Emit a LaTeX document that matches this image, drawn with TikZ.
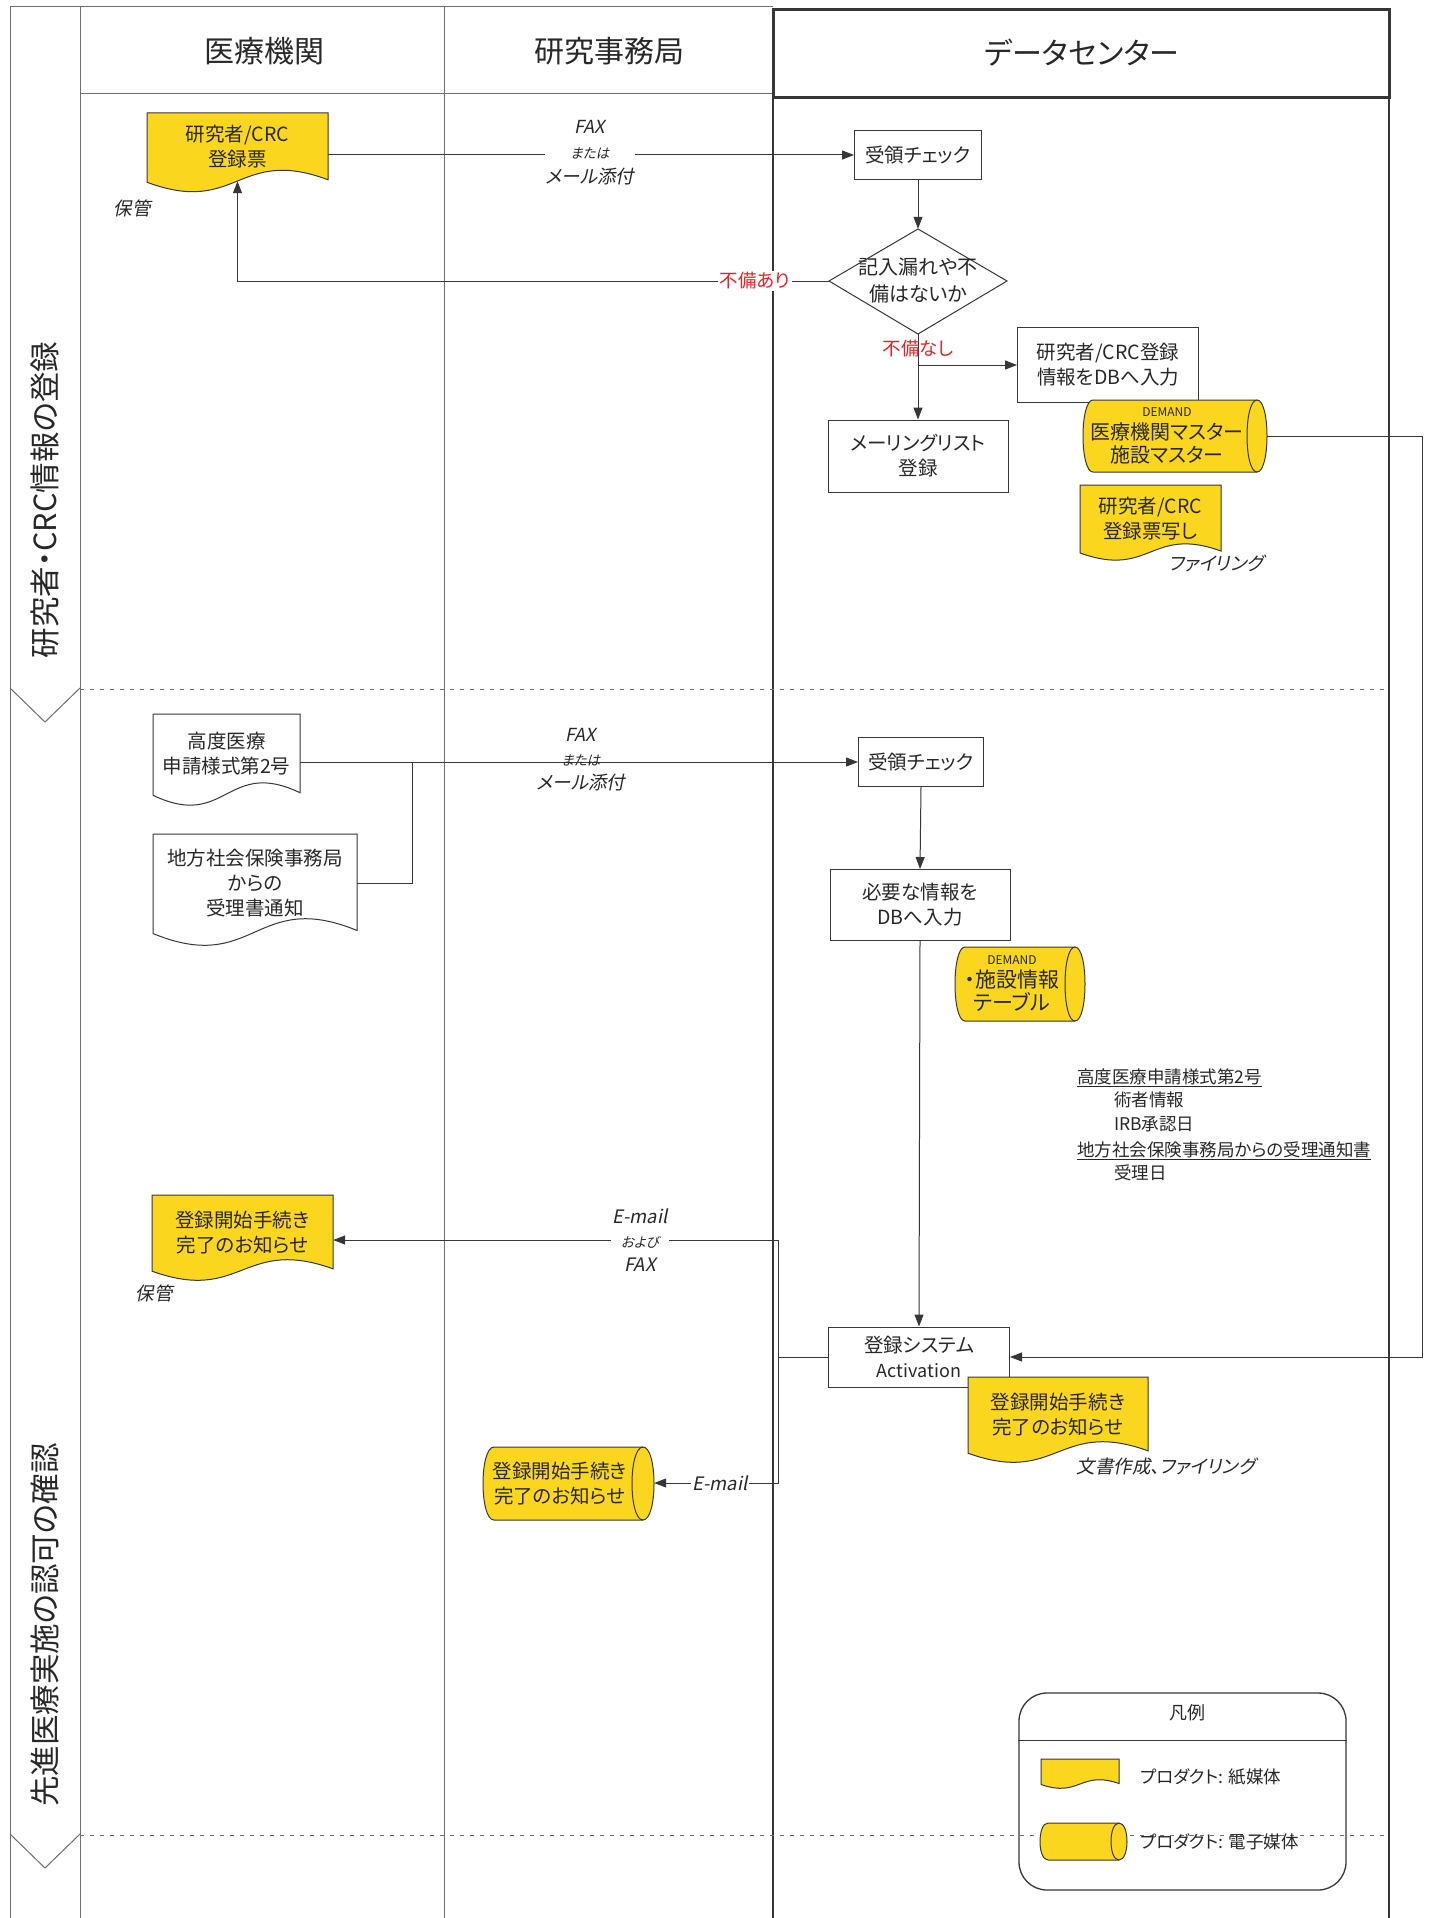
\documentclass[tikz,border=0pt]{standalone}
\usepackage{fontspec}
\setmainfont{Noto Sans CJK JP}[RawFeature=+palt]
\newfontfamily\jpit{Noto Sans CJK JP}[FakeSlant=0.2,RawFeature=+palt]
\usetikzlibrary{arrows.meta,calc}
\definecolor{yel}{RGB}{250,214,30}
\definecolor{linec}{RGB}{55,55,55}
\definecolor{txt}{RGB}{40,40,40}
\definecolor{redc}{RGB}{232,32,40}
\definecolor{gridc}{RGB}{110,110,110}
\newcommand\fs[2]{\fontsize{#1}{#2}\selectfont}
\tikzset{
  ln/.style={draw=linec, line width=1pt},
  arr/.style={ln, -{Triangle[length=12pt,width=9pt]}},
  gridl/.style={draw=gridc, line width=1pt},
  colthick/.style={draw=linec, line width=2.6pt},
  dashl/.style={draw=gridc, line width=0.9pt, dash pattern=on 4pt off 6pt},
  pbox/.style={draw=linec, line width=1pt, fill=white, text=txt, align=center, inner sep=0pt, font=\fs{19.5}{25}},
  doct/.style={text=txt, align=center, inner sep=0pt, font=\fs{19.5}{25}},
  lbl/.style={text=txt, align=center, inner sep=1pt, font=\jpit\fs{18.5}{22}},
  note/.style={text=txt, anchor=west, inner sep=0pt, font=\fs{17.5}{20}},
  hdr/.style={text=txt, font=\fs{30}{34}},
  phase/.style={text=txt, rotate=90, font=\fs{30.5}{36}},
}
% document shape: name, x0, x1, top, wave-mid, amplitude, fill, text
\newcommand\paperdoc[8]{%
  \filldraw[ln, fill=#7] (#2,#4) -- (#3,#4) -- (#3,{#5-0.05*#6})
    .. controls ({(#2+#3)/2},{#5-1.4*#6}) and ({(#2+#3)/2},{#5+1.4*#6}) .. (#2,{#5+0.05*#6}) -- cycle;
  \node[doct, minimum width={#3-#2}, minimum height={#5-#4}] (#1) at ({(#2+#3)/2},{(#4+#5)/2}) {#8};
}
% stored data (horizontal cylinder): name, x0, x1, y0, y1, rx, text, text options
\newcommand\ecyl[8]{%
  \filldraw[ln, fill=yel] ({#2+#6},#4) -- ({#3-#6},#4)
    .. controls ({#3+#6/3},#4) and ({#3+#6/3},#5) .. ({#3-#6},#5)
    -- ({#2+#6},#5)
    .. controls ({#2-#6/3},#5) and ({#2-#6/3},#4) .. ({#2+#6},#4) -- cycle;
  \draw[ln] ({#3-#6},#4) .. controls ({#3-#6-4/3*#6},#4) and ({#3-#6-4/3*#6},#5) .. ({#3-#6},#5);
  \node[inner sep=0pt, minimum width={#3-#2}, minimum height={#5-#4}] (#1) at ({(#2+#3)/2},{(#4+#5)/2}) {};
  \node[doct, #8] (#1t) at ({(#2+#3)/2-0.8*#6},{(#4+#5)/2}) {#7};
}
\begin{document}
\begin{tikzpicture}[x=1pt,y=-1pt]
\useasboundingbox (0,0) rectangle (1428,1918);
\fill[white] (0,0) rectangle (1428,1918);

% ---------- lanes ----------
\draw[gridl] (10,7) -- (773,7);
\draw[gridl] (80,94) -- (773,94);
\draw[gridl] (10,7) -- (10,1918);
\draw[gridl] (80,7) -- (80,1918);
\draw[gridl] (444,7) -- (444,1918);
\draw[colthick] (773,10) -- (773,1918);
\draw[colthick] (1389,10) -- (1389,1918);
\draw[draw=linec, line width=3pt] (773,10) rectangle (1389,98);

\node[hdr] (h1) at (264,51) {医療機関};
\node[hdr] (h2) at (609,51) {研究事務局};
\node[hdr] (h3) at (1082,53) {データセンター};

% phase separators
\draw[gridl] (10,688) -- (45,722) -- (80,688);
\draw[gridl] (10,1834) -- (45,1868) -- (80,1834);
\draw[dashl] (80,689) -- (1389,689);
\draw[dashl] (80,1835) -- (1389,1835);
\node[phase] (p1) at (45,500) {研究者・CRC情報の登録};
\node[phase] (p2) at (45,1625) {先進医療実施の認可の確認};

% ---------- phase 1 ----------
\paperdoc{doc1}{147}{328}{113}{181}{25}{yel}{研究者/CRC\\登録票}
\node[lbl] (k1) at (132,208) {保管};

\node[pbox, minimum width=127, minimum height=49] (rc1) at (918,155) {受領チェック};
\draw[arr] (doc1.east |- rc1.west) -- (rc1.west);
\node[lbl, fill=white, font=\jpit\fs{18.5}{25}] (m1) at (590,153) {{\fs{18}{18}FAX}\\{\fs{13.5}{14}または}\\メール添付};

\draw[ln, fill=white] (918,229) -- (1007,281) -- (918,334) -- (829,281) -- cycle;
\node[inner sep=0pt, minimum width=178, minimum height=105] (dia) at (918,281.5) {};
\node[doct, font=\fs{20}{27}] (diat) at (918,280) {記入漏れや不\\備はないか};
\draw[arr] (rc1.south) -- (dia.north);

\draw[arr] (dia.west) -| (doc1.south);
\node[text=redc, fill=white, inner sep=2pt, font=\fs{18.5}{20}] (nb1) at (755,281) {不備あり};

\node[pbox, minimum width=180, minimum height=72] (ml) at (918,456) {メーリングリスト\\登録};
\node[pbox, minimum width=181, minimum height=75] (db1) at (1108,365) {研究者/CRC登録\\情報をDBへ入力};
\draw[arr] (dia.south) -- (ml.north);
\coordinate (br1) at (918,365);
\draw[arr] (br1) -- (db1.west);
\node[text=redc, inner sep=0pt, font=\fs{18.5}{20}] (nb2) at (918,349) {不備なし};

\ecyl{cyl1}{1083}{1267}{400}{472}{10}{{\fs{12}{14}DEMAND}\\医療機関マスター\\施設マスター}{font=\fs{20}{23}}
\paperdoc{doc2}{1080}{1221}{485}{552}{19}{yel}{研究者/CRC\\登録票写し}
\node[lbl] (k2) at (1216,563) {ファイリング};

% ---------- phase 2 ----------
\paperdoc{doc3}{153}{300}{714}{794}{26}{white}{高度医療\\申請様式第2号}
\paperdoc{doc4}{153}{357}{834}{932}{31}{white}{地方社会保険事務局\\からの\\受理書通知}

\node[pbox, minimum width=125, minimum height=49] (rc2) at (921,762) {受領チェック};
\draw[arr] (doc3.east |- rc2.west) -- (rc2.west);
\coordinate (j1) at (412,762);
\draw[ln] (doc4.east) -| (j1);
\node[lbl, font=\jpit\fs{18.5}{24}] (m2) at (581,760) {{\fs{18}{18}FAX}\\{\fs{13.5}{14}または}\\メール添付};

\node[pbox, minimum width=180, minimum height=71] (need) at (920,905) {必要な情報を\\DBへ入力};
\draw[arr] (rc2.south) -- (need.north);
\ecyl{cyl2}{955}{1085}{947}{1021}{10}{{\fs{12}{14}DEMAND}\\・施設情報\\テーブル}{font=\fs{21}{23}}

\node[note] (n1) at (1077,1078) {\underline{高度医療申請様式第2号}};
\node[note] (n2) at (1114,1100) {術者情報};
\node[note] (n3) at (1114,1124) {IRB承認日};
\node[note] (n4) at (1077,1151) {\underline{地方社会保険事務局からの受理通知書}};
\node[note] (n5) at (1114,1173) {受理日};

\node[pbox, minimum width=181, minimum height=60, font=\fs{19.5}{25}] (act) at (919,1357) {登録システム\\{\fs{18}{20}Activation}};
\draw[arr] (need.south) -- (act.north);
\coordinate (rt) at (1422,436);
\draw[arr] (cyl1.east) -- (rt) |- (act.east);

\paperdoc{doc6}{968}{1148}{1377}{1452}{24}{yel}{登録開始手続き\\完了のお知らせ}
\node[lbl] (k3) at (1166,1466) {文書作成、ファイリング};

\paperdoc{doc5}{152}{333}{1195}{1270}{24}{yel}{登録開始手続き\\完了のお知らせ}
\node[lbl] (k4) at (154,1293) {保管};
\ecyl{cyl3}{483}{654}{1447}{1520}{11}{登録開始手続き\\完了のお知らせ}{}

\coordinate (bj) at (778,1357);
\coordinate (bt) at (778,1240);
\coordinate (bb) at (778,1483);
\draw[ln] (act.west) -- (bj);
\draw[arr] (bj) -- (bt) -- (bt -| doc5.east);
\draw[arr] (bj) -- (bb) -- (bb -| cyl3.east);
\node[lbl, fill=white, font=\jpit\fs{18.5}{24}] (m3) at (640,1240) {E-mail\\{\fs{13.5}{14}および}\\FAX};
\node[lbl, fill=white] (m4) at (720,1483) {E-mail};

% ---------- legend ----------
\node[draw=linec, line width=1.3pt, rounded corners=28pt, minimum width=327, minimum height=197, inner sep=0pt] (leg) at (1182.5,1791.5) {};
\coordinate (legsep) at (1182,1740);
\draw[ln] (leg.west |- legsep) -- (leg.east |- legsep);
\node[text=txt, font=\fs{18}{20}] (legt) at (1187,1713) {凡例};
\paperdoc{ld1}{1041}{1119}{1759}{1784}{10}{yel}{}
\node[note] (lt1) at (1140,1777) {プロダクト: 紙媒体};
\ecyl{ld2}{1040}{1127}{1823}{1860}{8}{}{}
\node[note] (lt2) at (1140,1842) {プロダクト: 電子媒体};
\end{tikzpicture}
\end{document}
